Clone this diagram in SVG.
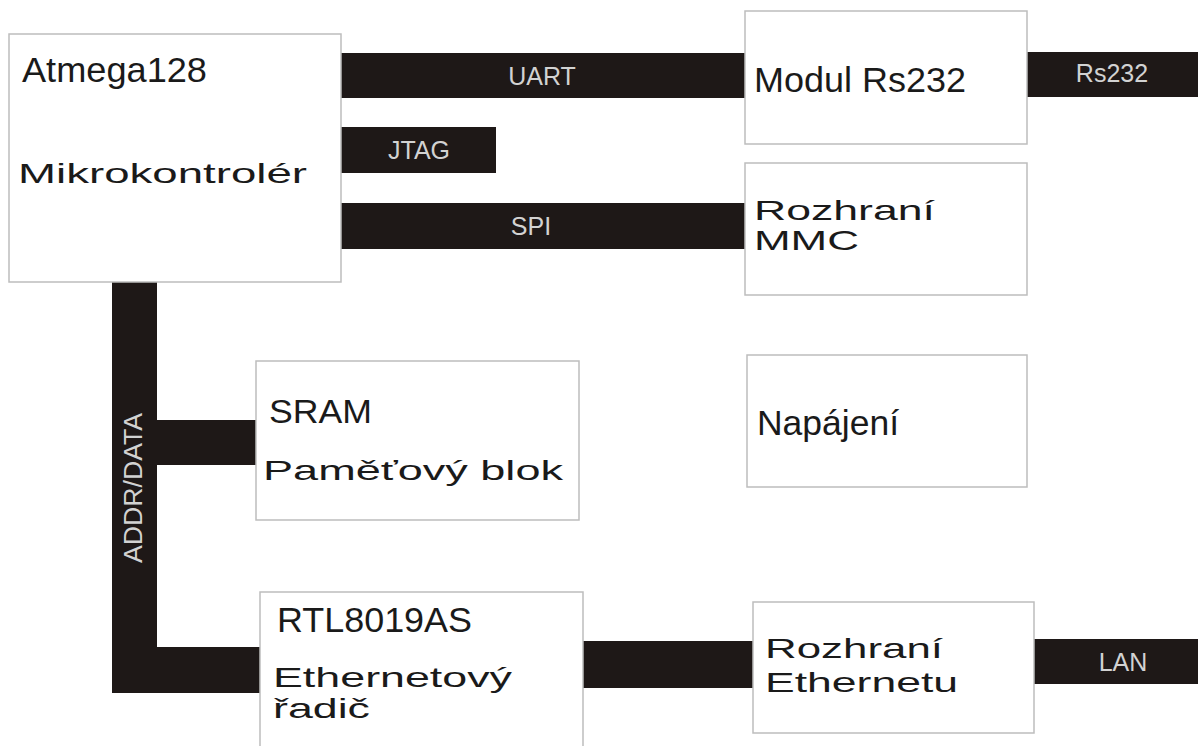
<svg xmlns="http://www.w3.org/2000/svg" width="1198" height="746" viewBox="0 0 1198 746">
<style>
.box{fill:#fff;stroke:#bdbdbd;stroke-width:1.5}
.bar{fill:#1e1817}
.lbl{font-family:"Liberation Sans",Arial,sans-serif;font-size:25px;fill:#d2d2d2}
.t{font-family:"Liberation Sans",Arial,sans-serif;fill:#1a1a1a}
.big{font-size:35px}
.wide{font-size:28px}
</style>
<rect width="1198" height="746" fill="#fff"/>
<g id="connectors">
<rect class="bar" x="341" y="53" width="404" height="45"/>
<rect class="bar" x="341" y="127" width="155" height="46"/>
<rect class="bar" x="341" y="203" width="404" height="46"/>
<rect class="bar" x="1027" y="52" width="171" height="45"/>
<path class="bar" d="M112 282 H157 V420 H256 V465 H157 V647 H260 V693 H112 Z"/>
<rect class="bar" x="583" y="641" width="170" height="47"/>
<rect class="bar" x="1034" y="639" width="164" height="45"/>
<text class="lbl" x="542" y="85" text-anchor="middle">UART</text>
<text class="lbl" x="419" y="159" text-anchor="middle">JTAG</text>
<text class="lbl" x="531" y="235" text-anchor="middle">SPI</text>
<text class="lbl" x="1112" y="82" text-anchor="middle">Rs232</text>
<text class="lbl" x="1123" y="671" text-anchor="middle">LAN</text>
<text class="lbl" x="0" y="0" font-size="24" textLength="150" lengthAdjust="spacingAndGlyphs" transform="translate(142 563) rotate(-90)">ADDR/DATA</text>
</g>
<g id="atmega">
<rect class="box" x="9" y="34" width="332" height="248"/>
<text class="t big" x="22" y="82" textLength="185" lengthAdjust="spacingAndGlyphs">Atmega128</text>
<text class="t wide" x="18" y="183" textLength="289" lengthAdjust="spacingAndGlyphs">Mikrokontrolér</text>
</g>
<g id="rs232">
<rect class="box" x="745" y="11" width="282" height="133"/>
<text class="t big" x="754" y="92" textLength="212" lengthAdjust="spacingAndGlyphs">Modul Rs232</text>
</g>
<g id="mmc">
<rect class="box" x="745" y="163" width="282" height="132"/>
<text class="t wide" x="754" y="220" textLength="181" lengthAdjust="spacingAndGlyphs">Rozhraní</text>
<text class="t wide" x="754" y="250" textLength="105" lengthAdjust="spacingAndGlyphs">MMC</text>
</g>
<g id="sram">
<rect class="box" x="256" y="361" width="323" height="159"/>
<text class="t" x="269" y="423" font-size="34" textLength="103" lengthAdjust="spacingAndGlyphs">SRAM</text>
<text class="t wide" x="263" y="480" textLength="300" lengthAdjust="spacingAndGlyphs">Paměťový blok</text>
</g>
<g id="napajeni">
<rect class="box" x="747" y="355" width="280" height="132"/>
<text class="t big" x="757" y="435" textLength="142" lengthAdjust="spacingAndGlyphs">Napájení</text>
</g>
<g id="rtl">
<rect class="box" x="260" y="592" width="323" height="160"/>
<text class="t big" x="277" y="632" textLength="195" lengthAdjust="spacingAndGlyphs">RTL8019AS</text>
<text class="t wide" x="273" y="687" textLength="239" lengthAdjust="spacingAndGlyphs">Ethernetový</text>
<text class="t wide" x="273" y="718" textLength="97" lengthAdjust="spacingAndGlyphs">řadič</text>
</g>
<g id="eth">
<rect class="box" x="753" y="602" width="281" height="131"/>
<text class="t wide" x="765" y="658" textLength="178" lengthAdjust="spacingAndGlyphs">Rozhraní</text>
<text class="t wide" x="765" y="692" textLength="193" lengthAdjust="spacingAndGlyphs">Ethernetu</text>
</g>
</svg>
